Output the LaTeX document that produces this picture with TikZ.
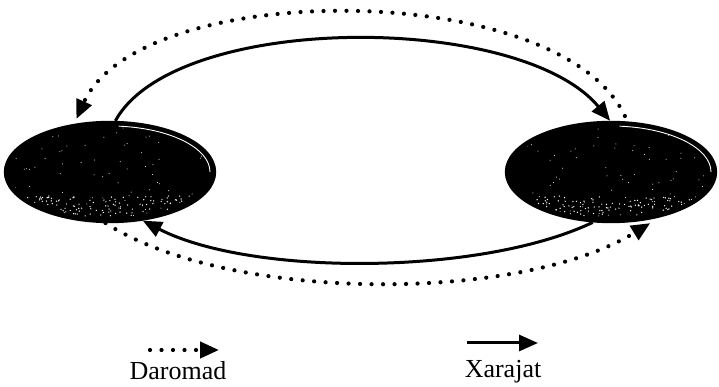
\documentclass[tikz,border=0pt]{standalone}
\usepackage{fontspec}
\setmainfont{Liberation Serif}
\usetikzlibrary{arrows.meta,shapes.geometric,calc}
\tikzset{
  blob/.style={ellipse, draw=black, fill=black, line width=2.4pt, inner sep=0pt,
    minimum width=210pt, minimum height=100pt},
  solidarrow/.style={line width=3pt, -{Triangle[length=19pt,width=16pt]}},
  dotarrow/.style={line width=4.2pt, line cap=round, dash pattern=on 0pt off 11.5pt,
    -{Triangle[length=19pt,width=16pt]}},
  legendtext/.style={font=\fontsize{26}{30}\selectfont, anchor=base, inner sep=0pt},
  speck/.style={fill=white}
}
\begin{document}
\begin{tikzpicture}[x=1pt,y=1pt]
\useasboundingbox (0,0) rectangle (719,387);
\node[blob] (L) at (110,215) {};
\node[blob] (R) at (611,215) {};
% speckles and inner white rim
\pgfmathsetseed{7}
\foreach \c in {L,R}{
  \begin{scope}
    \clip (\c.center) ellipse [x radius=101pt, y radius=46pt];
    \foreach \i in {1,...,70}{
      \fill[speck] ($(\c.center)+(rand*100pt, rand*44pt)$) circle [radius=0.5pt];
    }
    \foreach \i in {1,...,130}{
      \fill[speck] ($(\c.center)+(rand*85pt, -34pt+rand*10pt)$) circle [radius=0.7pt];
    }
  \end{scope}
  \draw[white, line width=0.9pt] ($(\c.center)+(100pt,0)$) arc [start angle=0, end angle=85, x radius=100pt, y radius=46pt];
}
% connectors
\draw[solidarrow] (L.84) .. controls (175,375) and (520,375) .. (R.91);
\draw[dotarrow, shorten <=6pt] (R.72) .. controls (560,409) and (140,409) .. ($(L.122)+(-3,4)$);
\draw[solidarrow] (R.250) .. controls (480,111) and (250,111) .. (L.304);
\draw[dotarrow] (L.265) .. controls (230,84) and (520,84) .. ($(R.307)+(3,-3)$);
% legend
\coordinate (d1) at (150,37);
\coordinate (d2) at (219,37);
\coordinate (s1) at (467,44);
\coordinate (s2) at (538,44);
\draw[dotarrow] (d1) -- (d2);
\draw[solidarrow] (s1) -- (s2);
\node[legendtext] (daromad) at (178,7) {Daromad};
\node[legendtext] (xarajat) at (503,9) {Xarajat};
\end{tikzpicture}
\end{document}
